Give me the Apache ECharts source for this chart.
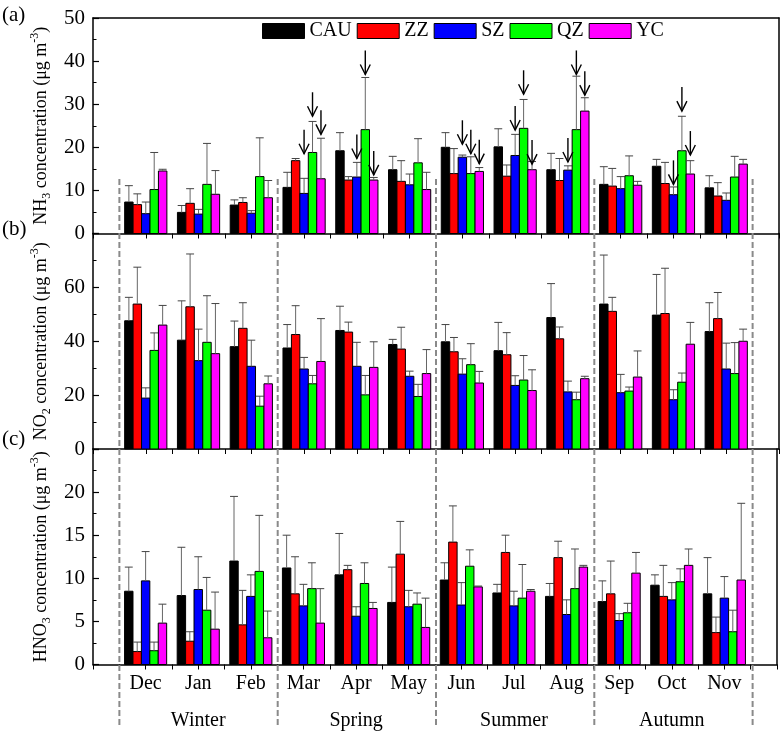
<!DOCTYPE html>
<html><head><meta charset="utf-8">
<script src="https://cdn.jsdelivr.net/npm/echarts@6/dist/echarts.min.js"></script>
<style>html,body{margin:0;padding:0;background:#fff}#c{width:780px;height:733px}</style>
</head><body><div id="c"></div>
<script>
const months = ['Dec','Jan','Feb','Mar','Apr','May','Jun','Jul','Aug','Sep','Oct','Nov'];
const seasons = ['Winter','Spring','Summer','Autumn'];
const seasonBounds = [0.5, 3.5, 6.5, 9.5, 12.5];
const sites = ['CAU','ZZ','SZ','QZ','YC'];
const siteColors = ['#000000','#ff0000','#0000ff','#00ff00','#ff00ff'];

// NH3 (ug m-3): monthly mean and SD
const nh3_CAU = [7.3, 4.9, 6.6, 10.7, 19.2, 14.8, 20.0, 20.1, 14.8, 11.4, 15.6, 10.6];
const nh3_ZZ  = [6.7, 7.0, 7.2, 16.9, 12.4, 12.1, 13.9, 13.3, 12.3, 11.0, 11.6, 8.7];
const nh3_SZ  = [4.6, 4.5, 4.7, 9.3, 13.1, 11.3, 17.7, 18.1, 14.7, 10.4, 9.0, 7.7];
const nh3_QZ  = [10.2, 11.4, 13.2, 18.8, 24.1, 16.4, 13.9, 24.4, 24.1, 13.4, 19.2, 13.1];
const nh3_YC  = [14.5, 9.1, 8.3, 12.7, 12.4, 10.2, 14.4, 14.8, 28.4, 11.2, 13.8, 16.1];
const nh3_CAU_sd = [3.8, 1.6, 1.2, 3.5, 4.2, 3.1, 3.4, 4.2, 3.8, 4.1, 1.6, 2.8];
const nh3_ZZ_sd  = [2.5, 3.4, 1.1, 0.5, 0.8, 4.8, 5.8, 2.6, 5.1, 4.1, 4.9, 3.1];
const nh3_SZ_sd  = [2.7, 1.1, 0.6, 3.5, 3.4, 2.5, 0.5, 4.9, 1.0, 2.8, 1.8, 1.7];
const nh3_QZ_sd  = [8.6, 9.5, 9.0, 7.2, 12.1, 5.6, 3.9, 6.7, 12.4, 4.6, 8.0, 4.8];
const nh3_YC_sd  = [0.4, 5.5, 4.0, 9.4, 0.6, 4.0, 0.9, 1.9, 3.1, 0.9, 3.1, 1.1];

// NO2
const no2_CAU = [47.6, 40.4, 38.0, 37.5, 44.0, 38.8, 39.8, 36.5, 48.8, 53.8, 49.7, 43.6];
const no2_ZZ  = [53.8, 52.8, 44.8, 42.5, 43.4, 37.1, 36.1, 35.0, 40.9, 51.1, 50.3, 48.4];
const no2_SZ  = [18.9, 32.8, 30.7, 29.7, 30.7, 27.0, 27.8, 23.6, 21.2, 20.9, 18.3, 29.7];
const no2_QZ  = [36.6, 39.6, 15.9, 24.2, 20.1, 19.5, 31.3, 25.6, 18.3, 21.5, 24.8, 28.0];
const no2_YC  = [46.0, 35.4, 24.2, 32.5, 30.3, 28.0, 24.5, 21.7, 26.1, 26.7, 38.9, 40.0];
const no2_CAU_sd = [8.7, 14.6, 9.5, 8.7, 9.0, 1.9, 6.4, 10.5, 12.6, 18.2, 15.1, 10.7];
const no2_ZZ_sd  = [13.7, 19.6, 9.5, 10.7, 3.7, 8.1, 5.3, 8.2, 4.4, 5.2, 16.8, 9.7];
const no2_SZ_sd  = [3.8, 11.7, 9.7, 4.3, 8.9, 1.9, 5.7, 3.6, 4.0, 6.8, 3.7, 9.6];
const no2_QZ_sd  = [6.5, 17.3, 3.7, 3.1, 7.2, 4.5, 7.8, 9.1, 2.8, 1.5, 3.4, 11.5];
const no2_YC_sd  = [7.3, 18.6, 2.9, 15.9, 9.5, 8.9, 4.3, 7.7, 0.9, 9.7, 8.1, 4.5];

// HNO3
const hno3_CAU = [8.5, 8.0, 12.0, 11.2, 10.4, 7.2, 9.8, 8.3, 7.9, 7.3, 9.2, 8.2];
const hno3_ZZ  = [1.5, 2.7, 4.6, 8.2, 11.0, 12.8, 14.2, 13.0, 12.4, 8.2, 7.9, 3.7];
const hno3_SZ  = [9.7, 8.7, 7.9, 6.8, 5.6, 6.7, 6.9, 6.8, 5.8, 5.1, 7.5, 7.7];
const hno3_QZ  = [1.6, 6.3, 10.8, 8.8, 9.4, 7.0, 11.4, 7.7, 8.8, 6.0, 9.6, 3.8];
const hno3_YC  = [4.8, 4.1, 3.1, 4.8, 6.5, 4.3, 9.0, 8.5, 11.3, 10.6, 11.5, 9.8];
const hno3_CAU_sd = [2.8, 5.6, 7.5, 3.8, 4.8, 4.1, 2.0, 1.0, 1.5, 2.4, 1.2, 4.2];
const hno3_ZZ_sd  = [1.1, 1.1, 4.0, 4.3, 0.5, 3.8, 4.2, 2.0, 1.9, 3.8, 3.6, 1.8];
const hno3_SZ_sd  = [3.4, 3.8, 2.5, 2.5, 1.1, 1.9, 2.6, 1.7, 1.7, 0.8, 2.0, 2.5];
const hno3_QZ_sd  = [1.0, 3.8, 6.5, 3.0, 2.4, 1.3, 1.9, 3.9, 4.6, 1.1, 1.5, 2.5];
const hno3_YC_sd  = [2.2, 4.3, 3.1, 4.0, 0.7, 3.4, 0.1, 0.2, 0.2, 2.4, 1.9, 8.9];

// arrows in panel (a)
const arrowMonths = ['Mar','Mar','Mar','Apr','Apr','Apr','Jun','Jun','Jun','Jul','Jul','Jul','Aug','Aug','Aug','Oct','Oct','Oct'];
const arrowSites  = ['SZ','QZ','YC','SZ','QZ','YC','SZ','QZ','YC','SZ','QZ','YC','SZ','QZ','YC','SZ','QZ','YC'];
const arrowTips   = [18.5, 27.2, 23.0, 17.4, 36.9, 13.6, 20.7, 18.5, 16.2, 24.0, 32.3, 16.1, 16.6, 36.9, 32.1, 11.4, 28.4, 18.2];

const yTicksA = {min: 0, max: 50, interval: 10};
const yTicksB = {min: 0, max: 80, interval: 20};
const yTicksC = {min: 0, max: 25, interval: 5};

const FONT = '"Liberation Serif","Times New Roman",serif';

const panels = [
  {means: [nh3_CAU, nh3_ZZ, nh3_SZ, nh3_QZ, nh3_YC], sds: [nh3_CAU_sd, nh3_ZZ_sd, nh3_SZ_sd, nh3_QZ_sd, nh3_YC_sd], ticks: yTicksA, sp: 'NH', sub: '3', top: 18},
  {means: [no2_CAU, no2_ZZ, no2_SZ, no2_QZ, no2_YC], sds: [no2_CAU_sd, no2_ZZ_sd, no2_SZ_sd, no2_QZ_sd, no2_YC_sd], ticks: yTicksB, sp: 'NO', sub: '2', top: 233.5},
  {means: [hno3_CAU, hno3_ZZ, hno3_SZ, hno3_QZ, hno3_YC], sds: [hno3_CAU_sd, hno3_ZZ_sd, hno3_SZ_sd, hno3_QZ_sd, hno3_YC_sd], ticks: yTicksC, sp: 'HNO', sub: '3', top: 449}
];
const PH = 215.5;

const grids = panels.map(p => ({left: 93, right: 1, top: p.top, height: PH}));
grids.push({left: 93, right: 1, top: 179, bottom: 8});

const xAxes = [];
const yAxes = [];
panels.forEach((p, i) => {
  xAxes.push({
    type: 'value', gridIndex: i, min: 0, max: 13, interval: 1, position: 'bottom',
    axisLine: {show: true, onZero: false, lineStyle: {color: '#000', width: 1.5}},
    axisTick: {show: true, inside: false, length: 5, lineStyle: {color: '#000', width: 1}},
    minorTick: {show: true, splitNumber: 2, length: 5, lineStyle: {color: '#000', width: 1}},
    splitLine: {show: false},
    axisLabel: i < 2 ? {show: false} : {
      show: true, margin: 7, color: '#000', fontFamily: FONT, fontSize: 20,
      formatter: v => {
        const k = Math.round(v) - 1;
        if (k < 0 || k > 11) return '';
        if (k % 3 === 1) return '{m|' + months[k] + '}\n{s|' + seasons[Math.floor(k / 3)] + '}';
        return '{m|' + months[k] + '}';
      },
      rich: {
        m: {fontSize: 20, lineHeight: 24, fontFamily: FONT, color: '#000'},
        s: {fontSize: 20, lineHeight: 50, fontFamily: FONT, color: '#000'}
      }
    }
  });
});
// top frame line of panel (a)
xAxes.push({type: 'value', gridIndex: 0, min: 0, max: 13, position: 'top',
  axisLine: {show: true, onZero: false, lineStyle: {color: '#000', width: 1.5}},
  axisTick: {show: false}, axisLabel: {show: false}, splitLine: {show: false}});
// overlay for season separators
xAxes.push({type: 'value', gridIndex: 3, min: 0, max: 13, show: false});

panels.forEach((p, i) => {
  const t = p.ticks;
  yAxes.push({
    type: 'value', gridIndex: i, min: t.min, max: t.max, interval: t.interval, position: 'left',
    axisLine: {show: true, onZero: false, lineStyle: {color: '#000', width: 1.5}},
    axisTick: {show: true, inside: true, length: 6, lineStyle: {color: '#000', width: 1.2}},
    minorTick: {show: true, splitNumber: 2, length: 3.5, lineStyle: {color: '#000', width: 1}},
    splitLine: {show: false},
    axisLabel: {color: '#000', fontFamily: FONT, fontSize: 21, margin: 8,
      formatter: v => (i > 0 && v === t.max) ? '' : String(v)},
    name: '{t|' + p.sp + '}{sub|' + p.sub + '}{t| concentration (μg m}{sup|-3}{t|)}',
    nameLocation: 'middle', nameGap: 34,
    nameTextStyle: {
      fontFamily: FONT, fontSize: 18, color: '#000',
      rich: {
        t: {fontFamily: FONT, fontSize: 18, lineHeight: 24, color: '#000'},
        sub: {fontFamily: FONT, fontSize: 12, lineHeight: 12, verticalAlign: 'bottom', color: '#000'},
        sup: {fontFamily: FONT, fontSize: 12, lineHeight: 12, verticalAlign: 'top', color: '#000'}
      }
    }
  });
});
panels.forEach((p, i) => {
  yAxes.push({type: 'value', gridIndex: i, min: p.ticks.min, max: p.ticks.max, position: 'right',
    axisLine: {show: true, onZero: false, lineStyle: {color: '#000', width: 1.5}},
    axisTick: {show: false}, axisLabel: {show: false}, splitLine: {show: false}});
});
yAxes.push({type: 'value', gridIndex: 3, min: 0, max: 1, show: false});

function barRenderer(site) {
  return function (params, api) {
    const x = api.value(0), v = api.value(1), e = api.value(2);
    const band = api.size([1, 0])[0];
    const bw = band * 0.8 / sites.length;
    const base = api.coord([x, 0]);
    const top = api.coord([x, v]);
    const capY = api.coord([x, e])[1];
    const cx = base[0] + (site - (sites.length - 1) / 2) * bw;
    const half = bw * 0.47;
    return {type: 'group', children: [
      {type: 'rect', shape: {x: cx - bw / 2, y: top[1], width: bw, height: base[1] - top[1]},
        style: {fill: siteColors[site], stroke: '#000', lineWidth: 1}},
      {type: 'line', shape: {x1: cx, y1: top[1], x2: cx, y2: capY}, style: {stroke: '#666', lineWidth: 1}},
      {type: 'line', shape: {x1: cx - half, y1: capY, x2: cx + half, y2: capY}, style: {stroke: '#444', lineWidth: 1}}
    ]};
  };
}

const series = [];
panels.forEach((p, pi) => {
  sites.forEach((s, si) => {
    series.push({
      type: 'custom', name: s, xAxisIndex: pi, yAxisIndex: pi,
      itemStyle: {color: siteColors[si], borderColor: '#000', borderWidth: 1},
      encode: {x: 0, y: 1},
      renderItem: barRenderer(si),
      data: months.map((m, k) => [k + 1, p.means[si][k], +(p.means[si][k] + p.sds[si][k]).toFixed(2)])
    });
  });
});

// arrows
series.push({
  type: 'custom', name: 'arrows', xAxisIndex: 0, yAxisIndex: 0, encode: {x: 0, y: 2},
  renderItem: function (params, api) {
    const x = api.value(0), si = api.value(1), tip = api.value(2);
    const band = api.size([1, 0])[0];
    const bw = band * 0.8 / sites.length;
    const c = api.coord([x, tip]);
    const cx = c[0] + (si - (sites.length - 1) / 2) * bw;
    const ty = c[1];
    const st = {stroke: '#000', lineWidth: 1.4, fill: null};
    return {type: 'group', children: [
      {type: 'line', shape: {x1: cx, y1: ty - 24, x2: cx, y2: ty}, style: st},
      {type: 'polyline', shape: {points: [[cx - 5, ty - 10], [cx, ty], [cx + 5, ty - 10]]}, style: st}
    ]};
  },
  data: arrowMonths.map((m, i) => [months.indexOf(m) + 1, sites.indexOf(arrowSites[i]), arrowTips[i]])
});

// season separators
series.push({
  type: 'custom', name: 'sep', xAxisIndex: 4, yAxisIndex: 6, encode: {x: 0, y: 1}, silent: true,
  renderItem: function (params, api) {
    const b = api.value(0);
    const p0 = api.coord([b, 0]), p1 = api.coord([b, 1]);
    return {type: 'line', shape: {x1: p0[0], y1: p0[1], x2: p1[0], y2: p1[1]},
      style: {stroke: '#8a8a8a', lineWidth: 2, lineDash: [6, 3]}};
  },
  data: seasonBounds.map(b => [b, 0])
});

const chart = echarts.init(document.getElementById('c'), null, {renderer: 'canvas'});
chart.setOption({
  backgroundColor: '#fff',
  animation: false,
  title: [
    {text: '(a)', left: 2, top: 5},
    {text: '(b)', left: 2, top: 219},
    {text: '(c)', left: 2, top: 429}
  ].map(t => Object.assign(t, {padding: 0, textStyle: {fontFamily: FONT, fontSize: 21, fontWeight: 'normal', color: '#000'}})),
  legend: {
    data: sites, left: 262, top: 21, orient: 'horizontal', icon: 'rect',
    itemWidth: 42, itemHeight: 15, itemGap: 5, padding: 0,
    itemStyle: {borderColor: '#000', borderWidth: 1},
    textStyle: {fontFamily: FONT, fontSize: 20, color: '#000'}
  },
  grid: grids,
  xAxis: xAxes,
  yAxis: yAxes,
  series: series
});
</script></body></html>
